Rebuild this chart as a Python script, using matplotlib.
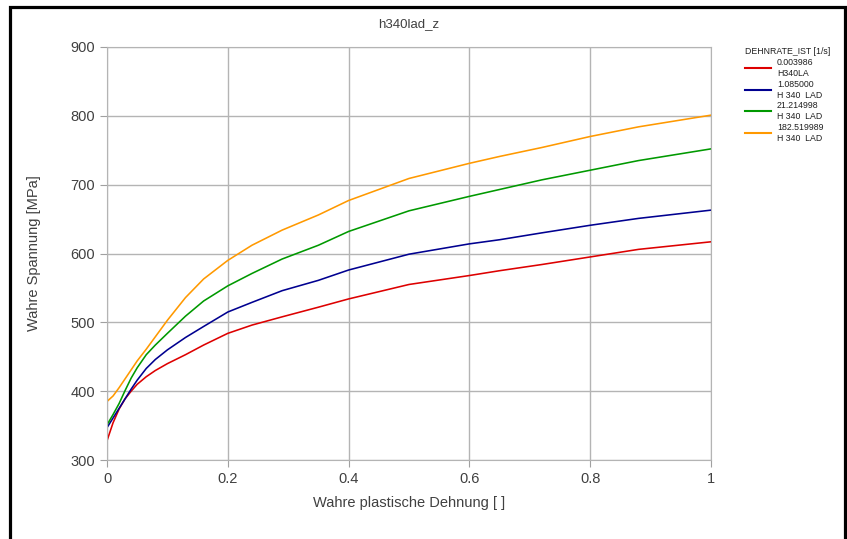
import matplotlib.pyplot as plt
from matplotlib.lines import Line2D
from matplotlib.patches import Rectangle

plt.rcParams['font.family'] = ['Liberation Sans', 'DejaVu Sans']

# strain values (Wahre plastische Dehnung)
strain = [0, 0.01, 0.02, 0.03, 0.04, 0.05, 0.065, 0.08, 0.1, 0.13, 0.16, 0.2,
          0.24, 0.29, 0.35, 0.4, 0.5, 0.6, 0.65, 0.72, 0.8, 0.88, 1.0]

# true stress in MPa, one curve per strain rate
red_vals = [328, 354, 374, 389, 400, 410, 421, 430, 440, 453, 467, 484,
            496, 508, 522, 534, 555, 568, 575, 584, 595, 606, 617]
blue_vals = [347, 361, 375, 389, 403, 416, 433, 446, 460, 478, 494, 515,
             529, 546, 561, 576, 599, 614, 620, 630, 641, 651, 663]
green_vals = [351, 366, 382, 401, 419, 434, 453, 467, 484, 509, 531, 553,
              571, 592, 612, 632, 662, 683, 693, 707, 721, 735, 752]
orange_vals = [385, 393, 405, 418, 431, 444, 461, 479, 503, 536, 563, 590,
               612, 634, 656, 677, 709, 731, 741, 754, 770, 784, 801]

rates = ["0.003986", "1.085000", "21.214998", "182.519989"]
names = ["H340LA", "H 340  LAD", "H 340  LAD", "H 340  LAD"]
colors = ['#dd0000', '#000090', '#009900', '#ff9900']

W, H = 847, 539
fig = plt.figure(figsize=(W / 100, H / 100), dpi=100)
ax = fig.add_axes([107 / W, 1 - 460 / H, 604 / W, 413 / H])

for vals, col in zip([red_vals, blue_vals, green_vals, orange_vals], colors):
    ax.plot(strain, vals, color=col, lw=1.15)

ax.set_xlim(0, 1)
ax.set_ylim(300, 900)
ax.set_xticks([0, 0.2, 0.4, 0.6, 0.8, 1])
ax.set_xticklabels(['0', '0.2', '0.4', '0.6', '0.8', '1'])
ax.set_yticks(range(300, 901, 100))
ax.grid(True, color='#b4b4b4', lw=1)
ax.set_axisbelow(True)
for s in ax.spines.values():
    s.set_color('#b4b4b4')
ax.tick_params(colors='#a0a0a0', labelcolor='#404040', labelsize=10.5, length=5)

ax.set_title('h340lad_z', fontsize=9.5, color='#404040', pad=14)
ax.set_xlabel('Wahre plastische Dehnung [ ]', fontsize=10.5, color='#404040', labelpad=7)
ax.set_ylabel('Wahre Spannung [MPa]', fontsize=10.5, color='#404040', labelpad=21)

# legend drawn by hand, like the original report layout
fig.text(745 / W, 1 - 52 / H, 'DEHNRATE_IST [1/s]', fontsize=6.3, color='#202020',
         va='center', ha='left')
for i, (r, n, col) in enumerate(zip(rates, names, colors)):
    yc = 68 + i * 21.7
    fig.add_artist(Line2D([745 / W, 771 / W], [1 - yc / H, 1 - yc / H],
                          transform=fig.transFigure, color=col, lw=1.5))
    fig.text(777 / W, 1 - (yc - 5.4) / H, r, fontsize=6.3, color='#202020', va='center')
    fig.text(777 / W, 1 - (yc + 5.4) / H, n, fontsize=6.3, color='#202020', va='center')

# black frame around the figure
fig.add_artist(Rectangle((10 / W, -0.05), 835 / W, 1.05 - 7 / H,
                         transform=fig.transFigure, fill=False, ec='black', lw=2.3))

fig.savefig('out.png', dpi=100)
